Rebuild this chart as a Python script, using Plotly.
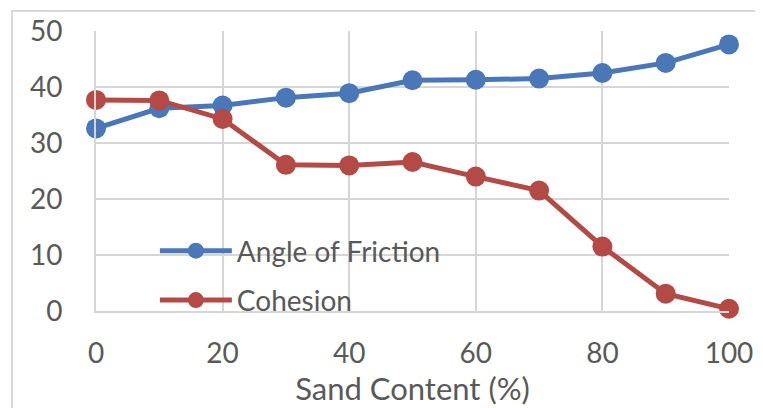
import plotly.graph_objects as go

sand_content = [0, 10, 20, 30, 40, 50, 60, 70, 80, 90, 100]
angle_of_friction = [32.6, 36.2, 36.7, 38.1, 38.9, 41.2, 41.3, 41.5, 42.5, 44.3, 47.6]
cohesion = [37.7, 37.6, 34.3, 26.1, 26.0, 26.6, 24.0, 21.5, 11.5, 3.1, 0.4]
x_ticks = [0, 20, 40, 60, 80, 100]
y_ticks = [0, 10, 20, 30, 40, 50]

BLUE = "#4A77B8"
RED = "#B44A46"
GRID = "#D6D6D6"
TEXT = "#595959"
FONT = "Lato"

fig = go.Figure()
fig.add_trace(go.Scatter(x=sand_content, y=angle_of_friction, mode="lines+markers",
                         name="Angle of Friction", legendgroup="a",
                         line=dict(color=BLUE, width=5),
                         marker=dict(color=BLUE, size=20), cliponaxis=False))
fig.add_trace(go.Scatter(x=sand_content, y=cohesion, mode="lines+markers",
                         name="Cohesion", legendgroup="b",
                         line=dict(color=RED, width=5),
                         marker=dict(color=RED, size=20), cliponaxis=False))

fig.update_layout(
    width=763, height=408,
    margin=dict(l=88, r=42, t=23, b=105),
    paper_bgcolor="white", plot_bgcolor="white",
    font=dict(family=FONT, size=28, color=TEXT),
    showlegend=True,
    legend=dict(x=0.093, y=0.127, xanchor="left", yanchor="middle",
                bgcolor="rgba(0,0,0,0)", itemwidth=72, tracegroupgap=10,
                font=dict(family=FONT, size=28, color=TEXT)),
    shapes=[dict(type="rect", xref="paper", yref="paper",
                 x0=-0.1327, x1=1.3, y0=-0.6, y1=1.0714,
                 line=dict(color="#D9D9D9", width=2), layer="below")],
)
fig.update_xaxes(range=[0, 100], tickvals=x_ticks, showgrid=True, gridcolor=GRID, gridwidth=2,
                 showline=True, linecolor=GRID, linewidth=2, zeroline=False,
                 ticks="", ticklabelstandoff=16, automargin=False,
                 tickfont=dict(family=FONT, size=28, color=TEXT),
                 title=dict(text="Sand Content (%)", standoff=10,
                            font=dict(family=FONT, size=31, color=TEXT)))
fig.update_yaxes(range=[0, 50], tickvals=y_ticks, showgrid=True, gridcolor=GRID, gridwidth=2,
                 showline=True, linecolor=GRID, linewidth=2, zeroline=False,
                 ticks="", ticklabelstandoff=26, automargin=False,
                 tickfont=dict(family=FONT, size=28, color=TEXT))

fig.write_html("out.html")
